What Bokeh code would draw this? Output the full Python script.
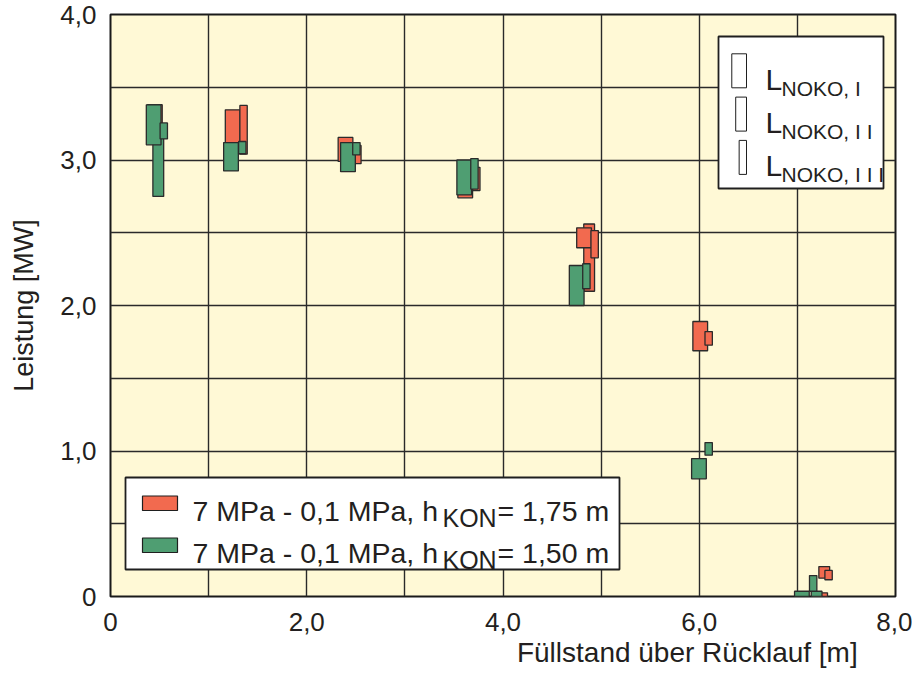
from bokeh.plotting import figure
from bokeh.models import FixedTicker, Label, Title
from bokeh.embed import file_html
from bokeh.resources import INLINE

# ---------------- data ----------------
x_tick_values = [0, 2, 4, 6, 8]
x_tick_labels = ["0", "2,0", "4,0", "6,0", "8,0"]
y_tick_values = [0, 1, 2, 3, 4]
y_tick_labels = ["0", "1,0", "2,0", "3,0", "4,0"]
x_grid_values = [1, 2, 3, 4, 5, 6, 7]
y_grid_values = [0.5, 1.0, 1.5, 2.0, 2.5, 3.0, 3.5]

x_title = "Füllstand über Rücklauf  [m]"
y_title = "Leistung [MW]"

# series 1 : 7 MPa - 0,1 MPa, hKON = 1,75 m  (red)
red_I_x = [0.452, 1.245, 2.395, 3.615, 4.826, 6.010, 7.232]
red_I_lo = [3.12, 3.12, 2.99, 2.74, 2.397, 1.689, 0.0]
red_I_hi = [3.38, 3.345, 3.155, 2.98, 2.534, 1.890, 0.025]
red_II_x = [4.878, 7.274]
red_II_lo = [2.098, 0.126]
red_II_hi = [2.560, 0.206]
red_III_x = [1.356, 2.516, 3.728, 4.934, 6.096, 7.318]
red_III_lo = [3.04, 2.975, 2.79, 2.328, 1.727, 0.115]
red_III_hi = [3.375, 3.10, 2.95, 2.515, 1.821, 0.179]

# series 2 : 7 MPa - 0,1 MPa, hKON = 1,50 m  (green)
green_I_x = [0.440, 1.228, 2.420, 3.605, 4.751, 5.997, 7.046]
green_I_lo = [3.104, 2.925, 2.92, 2.76, 2.0, 0.809, 0.0]
green_I_hi = [3.379, 3.12, 3.12, 3.0, 2.275, 0.948, 0.036]
green_II_x = [0.487, 7.196]
green_II_lo = [2.75, 0.0]
green_II_hi = [3.20, 0.036]
green_III_x = [0.543, 1.343, 2.506, 3.709, 4.850, 6.096, 7.161]
green_III_lo = [3.145, 3.043, 3.035, 2.80, 2.115, 0.971, 0.036]
green_III_hi = [3.255, 3.127, 3.12, 3.01, 2.287, 1.058, 0.144]

series_labels = ["7 MPa - 0,1 MPa, h", "7 MPa - 0,1 MPa, h"]
series_sub = ["KON", "KON"]
series_tail = ["= 1,75 m", "= 1,50 m"]
noko_main = ["L", "L", "L"]
noko_sub = ["NOKO, I", "NOKO, I I", "NOKO, I I I"]

# ---------------- styling ----------------
FONT = "Liberation Sans"
TXT = "#231f20"
RED = "#F26A4F"
GREEN = "#4F9E72"
EDGE = "#2b2b2b"
BG = "#FFF9D6"
W_I, W_II, W_III = 0.15, 0.11, 0.075

# frame geometry (canvas pixels)
FL, FR, FT, FB = 110, 895, 14, 596
CW, CH = 912, 672

p = figure(width=CW, height=CH, x_range=(0, 8), y_range=(0, 4),
           output_backend="svg", toolbar_location=None,
           min_border_left=FL, min_border_right=CW - FR,
           min_border_top=FT, min_border_bottom=CH - FB)
p.background_fill_color = BG
p.border_fill_color = "white"
p.outline_line_color = "#1a1a1a"
p.outline_line_width = 2

for ax in (p.xaxis[0], p.yaxis[0]):
    ax.axis_line_color = None
    ax.major_tick_line_color = None
    ax.minor_tick_line_color = None
    ax.major_tick_out = 0
    ax.major_tick_in = 0
    ax.major_label_text_font = FONT
    ax.major_label_text_font_size = "26px"
    ax.major_label_text_color = TXT
    ax.axis_label_text_font = FONT
    ax.axis_label_text_font_size = "27px"
    ax.axis_label_text_font_style = "normal"
    ax.axis_label_text_color = TXT

p.xaxis.ticker = FixedTicker(ticks=x_tick_values)
p.xaxis.major_label_overrides = dict(zip(x_tick_values, x_tick_labels))
p.yaxis.ticker = FixedTicker(ticks=y_tick_values)
p.yaxis.major_label_overrides = dict(zip(y_tick_values, y_tick_labels))
p.xaxis.major_label_standoff = 16
p.yaxis.major_label_standoff = 14
p.yaxis.axis_label = y_title
p.yaxis.axis_label_standoff = 18

# x-axis title: right-aligned below the tick labels
xt = Title(text=x_title, align="right", offset=30, standoff=2,
           text_font=FONT, text_font_size="28px", text_font_style="normal",
           text_color=TXT)
p.add_layout(xt, "below")

p.xgrid.ticker = FixedTicker(ticks=x_grid_values)
p.ygrid.ticker = FixedTicker(ticks=y_grid_values)
for g in (p.xgrid[0], p.ygrid[0]):
    g.grid_line_color = "#2a2a2a"
    g.grid_line_width = 1.4


def bars(xs, lo, hi, w, color):
    p.vbar(x=xs, width=w, bottom=lo, top=hi, fill_color=color,
           line_color=EDGE, line_width=1.3)


bars(red_II_x, red_II_lo, red_II_hi, W_II, RED)
bars(red_I_x, red_I_lo, red_I_hi, W_I, RED)
bars(red_III_x, red_III_lo, red_III_hi, W_III, RED)
bars(green_II_x, green_II_lo, green_II_hi, W_II, GREEN)
bars(green_I_x, green_I_lo, green_I_hi, W_I, GREEN)
bars(green_III_x, green_III_lo, green_III_hi, W_III, GREEN)


# ---------------- legends (canvas pixels -> data) ----------------
def dx(px):
    return (px - FL) / ((FR - FL) / 8.0)


def dy(py):
    return (FB - py) / ((FB - FT) / 4.0)


def box(l, r, t, b, fill, lw=1.6):
    p.quad(left=[dx(l)], right=[dx(r)], top=[dy(t)], bottom=[dy(b)],
           fill_color=fill, line_color="#1f1f1f", line_width=lw)


def label(px, py, text, size, align="left"):
    p.add_layout(Label(x=dx(px), y=dy(py), text=text, text_font=FONT,
                       text_font_size=size, text_color=TXT,
                       text_baseline="alphabetic", text_align=align))


# top-right: NOKO widths
box(718, 883, 36, 188, "white", 1.8)
sym_w = [W_I, W_II, W_III]
px_per_x = (FR - FL) / 8.0
for i in range(3):
    top = 53.3 + 43.3 * i
    wpx = sym_w[i] * px_per_x
    box(746 - wpx, 746, top, top + 34, "white", 1.0)
    label(765, 78.5 + 43.3 * i, noko_main[i], "30px")
    label(781, 87.5 + 43.3 * i, noko_sub[i], "21px")

# bottom-left: series
box(125, 619, 477, 569, "white", 1.8)
sw_col = [RED, GREEN]
for i in range(2):
    yb = 510 + 42 * i
    box(142, 177, yb - 14.5, yb, sw_col[i], 1.2)
    label(192, yb, series_labels[i], "28.5px")
    label(442, yb + 7.5, series_sub[i], "25px")
    label(497, yb, series_tail[i], "28.5px")

open("out.html", "w").write(file_html(p, INLINE))
